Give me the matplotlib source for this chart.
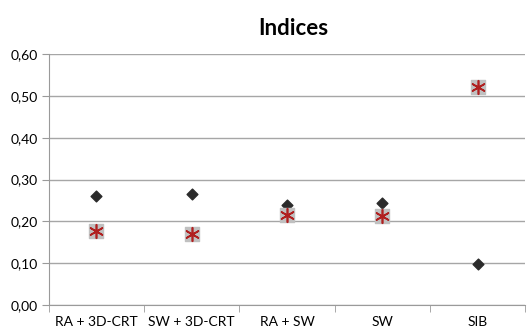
import numpy as np
import matplotlib
matplotlib.use("Agg")
import matplotlib.pyplot as plt

categories = ["RA + 3D-CRT", "SW + 3D-CRT", "RA + SW", "SW", "SIB"]
diamond_vals = [0.26, 0.266, 0.238, 0.243, 0.099]
square_vals = [0.176, 0.169, 0.214, 0.212, 0.522]
yticks = [0.0, 0.1, 0.2, 0.3, 0.4, 0.5, 0.6]

plt.rcParams["font.family"] = ["Lato", "DejaVu Sans"]

fig = plt.figure(figsize=(5.31, 3.34), dpi=100)
ax = fig.add_axes([0.092, 0.087, 0.897, 0.751])

x = np.arange(len(categories))
ax.scatter(x, diamond_vals, marker="D", s=30, color="#2b2b2b", zorder=3)
ax.scatter(x, square_vals, marker="s", s=110, color="#c0c0c0", zorder=3)
ax.scatter(x, square_vals, marker=(6, 2, 0), s=95, color="#b02020", linewidths=1.2, zorder=4)

ax.set_xlim(-0.5, len(categories) - 0.5)
ax.set_ylim(0, 0.6)
ax.set_yticks(yticks)
ax.set_yticklabels([f"{v:.2f}".replace(".", ",") for v in yticks], fontsize=10)
ax.set_xticks(x)
ax.set_xticklabels(categories, fontsize=10)
ax.set_xticks(np.arange(len(categories) + 1) - 0.5, minor=True)
ax.tick_params(axis="x", which="major", length=0, pad=8)
ax.tick_params(axis="x", which="minor", length=5, color="#9a9a9a")
ax.tick_params(axis="y", length=5, color="#9a9a9a", pad=3)

ax.grid(axis="y", color="#a6a6a6", linewidth=1)
ax.set_axisbelow(True)
for side in ["top", "right"]:
    ax.spines[side].set_visible(False)
for side in ["left", "bottom"]:
    ax.spines[side].set_color("#9a9a9a")

fig.text(0.553, 0.915, "Indices", ha="center", va="center", fontsize=16, fontweight="bold")

fig.savefig("out.png", dpi=100)
